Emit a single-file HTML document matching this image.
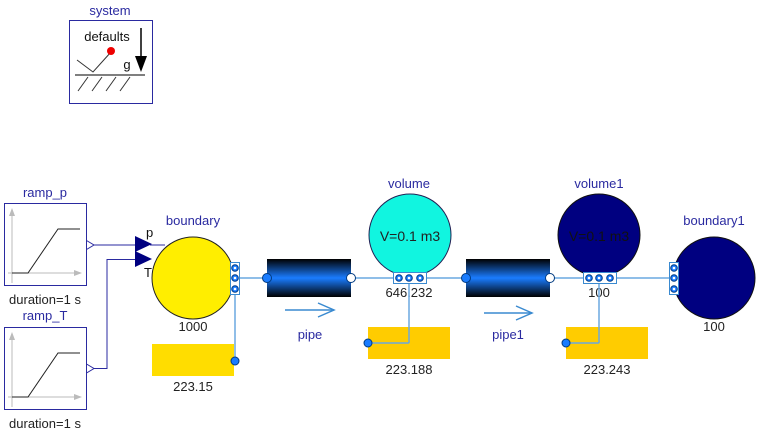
<!DOCTYPE html>
<html><head><meta charset="utf-8"><style>
html,body{margin:0;padding:0;background:#fff;}
svg{display:block;font-family:"Liberation Sans",sans-serif;}
</style></head><body>
<svg width="764" height="439" viewBox="0 0 764 439" xmlns="http://www.w3.org/2000/svg">
<defs>
<linearGradient id="pg" x1="0" y1="0" x2="0" y2="1">
<stop offset="0" stop-color="#000"/><stop offset="0.5" stop-color="#1a7cff"/><stop offset="1" stop-color="#000"/>
</linearGradient>
</defs>
<!-- system -->
<text x="110" y="15" font-size="13" fill="#2a2aa0" text-anchor="middle">system</text>
<rect x="69.5" y="20.5" width="83" height="83" fill="#fff" stroke="#2a2aa0"/>
<text x="107" y="41" font-size="13" fill="#111" text-anchor="middle">defaults</text>
<polyline points="77,60 93,72 111,52" fill="none" stroke="#333"/>
<circle cx="111" cy="51" r="4" fill="#e00"/>
<text x="127" y="69" font-size="13" fill="#111" text-anchor="middle">g</text>
<line x1="141" y1="28" x2="141" y2="58" stroke="#000" stroke-width="1.5"/>
<polygon points="135,56 147,56 141,72" fill="#000"/>
<line x1="75" y1="75" x2="145" y2="75" stroke="#555" stroke-width="1.5"/>
<g stroke="#333"><line x1="78" y1="91" x2="88" y2="77"/><line x1="92" y1="91" x2="102" y2="77"/><line x1="106" y1="91" x2="116" y2="77"/><line x1="120" y1="91" x2="130" y2="77"/></g>

<!-- ramps -->
<g>
<text x="45" y="197" font-size="13" fill="#2a2aa0" text-anchor="middle">ramp_p</text>
<rect x="4.5" y="203.5" width="82" height="82" fill="#fff" stroke="#2a2aa0"/>
<line x1="12" y1="283" x2="12" y2="213" stroke="#bbb"/><polygon points="9,216 15,216 12,208" fill="#bbb"/>
<line x1="8" y1="273" x2="76" y2="273" stroke="#bbb"/><polygon points="74,270 82,273 74,276" fill="#bbb"/>
<polyline points="12,273 28,273 58,229 80,229" fill="none" stroke="#222"/>
<polygon points="86.5,240.5 94,245 86.5,249.5" fill="#fff" stroke="#2a2aa0"/>
<text x="45" y="304" font-size="13" fill="#222" text-anchor="middle">duration=1 s</text>
</g>
<g>
<text x="45" y="320" font-size="13" fill="#2a2aa0" text-anchor="middle">ramp_T</text>
<rect x="4.5" y="327.5" width="82" height="82" fill="#fff" stroke="#2a2aa0"/>
<line x1="12" y1="407" x2="12" y2="337" stroke="#bbb"/><polygon points="9,340 15,340 12,332" fill="#bbb"/>
<line x1="8" y1="397" x2="76" y2="397" stroke="#bbb"/><polygon points="74,394 82,397 74,400" fill="#bbb"/>
<polyline points="12,397 28,397 58,353 80,353" fill="none" stroke="#222"/>
<polygon points="86.5,364 94,368.5 86.5,373" fill="#fff" stroke="#2a2aa0"/>
<text x="45" y="428" font-size="13" fill="#222" text-anchor="middle">duration=1 s</text>
</g>
<polyline points="94,245 136,245" fill="none" stroke="#2a2aa0"/>
<polyline points="94,368.5 107,368.5 107,259.5 136,259.5" fill="none" stroke="#2a2aa0"/>

<!-- boundary -->
<text x="193" y="225" font-size="13" fill="#2a2aa0" text-anchor="middle">boundary</text>
<line x1="150" y1="245" x2="165" y2="245" stroke="#2a2aa0"/>
<circle cx="193" cy="278" r="41" fill="#ffee00" stroke="#222"/>
<polygon points="135,236 152,244 135,252" fill="#000080"/>
<polygon points="135,251 152,259 135,267" fill="#000080"/>
<text x="146" y="237" font-size="13" fill="#111">p</text>
<text x="144" y="277" font-size="13" fill="#111">T</text>
<text x="193" y="331" font-size="13" fill="#222" text-anchor="middle">1000</text>
<rect x="152" y="344" width="82" height="32" fill="#ffdd00"/>
<text x="193" y="391" font-size="13" fill="#222" text-anchor="middle">223.15</text>
<line x1="235" y1="290" x2="235" y2="361" stroke="#6aa8e0" stroke-width="1.5"/>
<circle cx="235" cy="361" r="4" fill="#1a7cff" stroke="#003a80"/>

<!-- main flow lines -->
<line x1="240" y1="278" x2="393" y2="278" stroke="#6aa8e0" stroke-width="1.5"/>
<line x1="426" y1="278" x2="583" y2="278" stroke="#6aa8e0" stroke-width="1.5"/>
<line x1="616" y1="278" x2="670" y2="278" stroke="#6aa8e0" stroke-width="1.5"/>

<!-- boundary ports -->
<rect x="230.5" y="262.5" width="9" height="32" fill="#fff" stroke="#3a8ad0"/>
<g fill="#1a7cff" stroke="#003a80"><circle cx="235" cy="268" r="3.3"/><circle cx="235" cy="278" r="3.3"/><circle cx="235" cy="289" r="3.3"/></g>
<g fill="#fff"><circle cx="235" cy="268" r="1.3"/><circle cx="235" cy="278" r="1.3"/><circle cx="235" cy="289" r="1.3"/></g>

<!-- pipe -->
<rect x="267" y="259" width="84" height="38" fill="url(#pg)"/>
<circle cx="267" cy="278" r="4.5" fill="#1a7cff" stroke="#003a80"/>
<circle cx="351" cy="278" r="4.5" fill="#fff" stroke="#003a80"/>
<line x1="285" y1="310" x2="334" y2="310" stroke="#3a8ad0" stroke-width="1.5"/>
<polyline points="318,303 334,310 318,317" fill="none" stroke="#3a8ad0" stroke-width="1.5"/>
<text x="310" y="339" font-size="13" fill="#2a2aa0" text-anchor="middle">pipe</text>

<!-- volume -->
<text x="409" y="188" font-size="13" fill="#2a2aa0" text-anchor="middle">volume</text>
<circle cx="410" cy="235" r="41" fill="#11f5e0" stroke="#225"/>
<text x="410" y="241" font-size="14" fill="#222" text-anchor="middle">V=0.1 m3</text>
<rect x="368" y="327" width="82" height="32" fill="#ffcc00"/>
<text x="409" y="297" font-size="13" fill="#222" text-anchor="middle">646.232</text>
<line x1="409" y1="283" x2="409" y2="343" stroke="#6aa8e0" stroke-width="1.5"/>
<line x1="409" y1="343" x2="368" y2="343" stroke="#6aa8e0" stroke-width="1.5"/>
<circle cx="368" cy="343" r="4" fill="#1a7cff" stroke="#003a80"/>
<rect x="393.5" y="272.5" width="33" height="11" fill="#fff" stroke="#3a8ad0"/>
<g fill="#1a7cff" stroke="#003a80"><circle cx="399" cy="278" r="3.3"/><circle cx="409" cy="278" r="3.3"/><circle cx="420" cy="278" r="3.3"/></g>
<g fill="#fff"><circle cx="399" cy="278" r="1.3"/><circle cx="409" cy="278" r="1.3"/><circle cx="420" cy="278" r="1.3"/></g>
<text x="409" y="374" font-size="13" fill="#222" text-anchor="middle">223.188</text>

<!-- pipe1 -->
<rect x="466" y="259" width="84" height="38" fill="url(#pg)"/>
<circle cx="466" cy="278" r="4.5" fill="#1a7cff" stroke="#003a80"/>
<circle cx="550" cy="278" r="4.5" fill="#fff" stroke="#003a80"/>
<line x1="484" y1="313" x2="532" y2="313" stroke="#3a8ad0" stroke-width="1.5"/>
<polyline points="516,306 532,313 516,320" fill="none" stroke="#3a8ad0" stroke-width="1.5"/>
<text x="508" y="339" font-size="13" fill="#2a2aa0" text-anchor="middle">pipe1</text>

<!-- volume1 -->
<text x="599" y="188" font-size="13" fill="#2a2aa0" text-anchor="middle">volume1</text>
<circle cx="599" cy="235" r="41" fill="#000080" stroke="#111"/>
<text x="599" y="241" font-size="14" fill="#111" text-anchor="middle">V=0.1 m3</text>
<rect x="566" y="327" width="82" height="32" fill="#ffcc00"/>
<text x="599" y="297" font-size="13" fill="#222" text-anchor="middle">100</text>
<line x1="599" y1="283" x2="599" y2="343" stroke="#6aa8e0" stroke-width="1.5"/>
<line x1="599" y1="343" x2="566" y2="343" stroke="#6aa8e0" stroke-width="1.5"/>
<circle cx="566" cy="343" r="4" fill="#1a7cff" stroke="#003a80"/>
<rect x="583.5" y="272.5" width="33" height="11" fill="#fff" stroke="#3a8ad0"/>
<g fill="#1a7cff" stroke="#003a80"><circle cx="589" cy="278" r="3.3"/><circle cx="599" cy="278" r="3.3"/><circle cx="610" cy="278" r="3.3"/></g>
<g fill="#fff"><circle cx="589" cy="278" r="1.3"/><circle cx="599" cy="278" r="1.3"/><circle cx="610" cy="278" r="1.3"/></g>
<text x="607" y="374" font-size="13" fill="#222" text-anchor="middle">223.243</text>

<!-- boundary1 -->
<text x="714" y="225" font-size="13" fill="#2a2aa0" text-anchor="middle">boundary1</text>
<circle cx="714" cy="278" r="41" fill="#000080" stroke="#111"/>
<rect x="669.5" y="262.5" width="9" height="32" fill="#fff" stroke="#3a8ad0"/>
<g fill="#1a7cff" stroke="#003a80"><circle cx="674" cy="268" r="3.3"/><circle cx="674" cy="278" r="3.3"/><circle cx="674" cy="289" r="3.3"/></g>
<g fill="#fff"><circle cx="674" cy="268" r="1.3"/><circle cx="674" cy="278" r="1.3"/><circle cx="674" cy="289" r="1.3"/></g>
<text x="714" y="331" font-size="13" fill="#222" text-anchor="middle">100</text>
</svg>
</body></html>
